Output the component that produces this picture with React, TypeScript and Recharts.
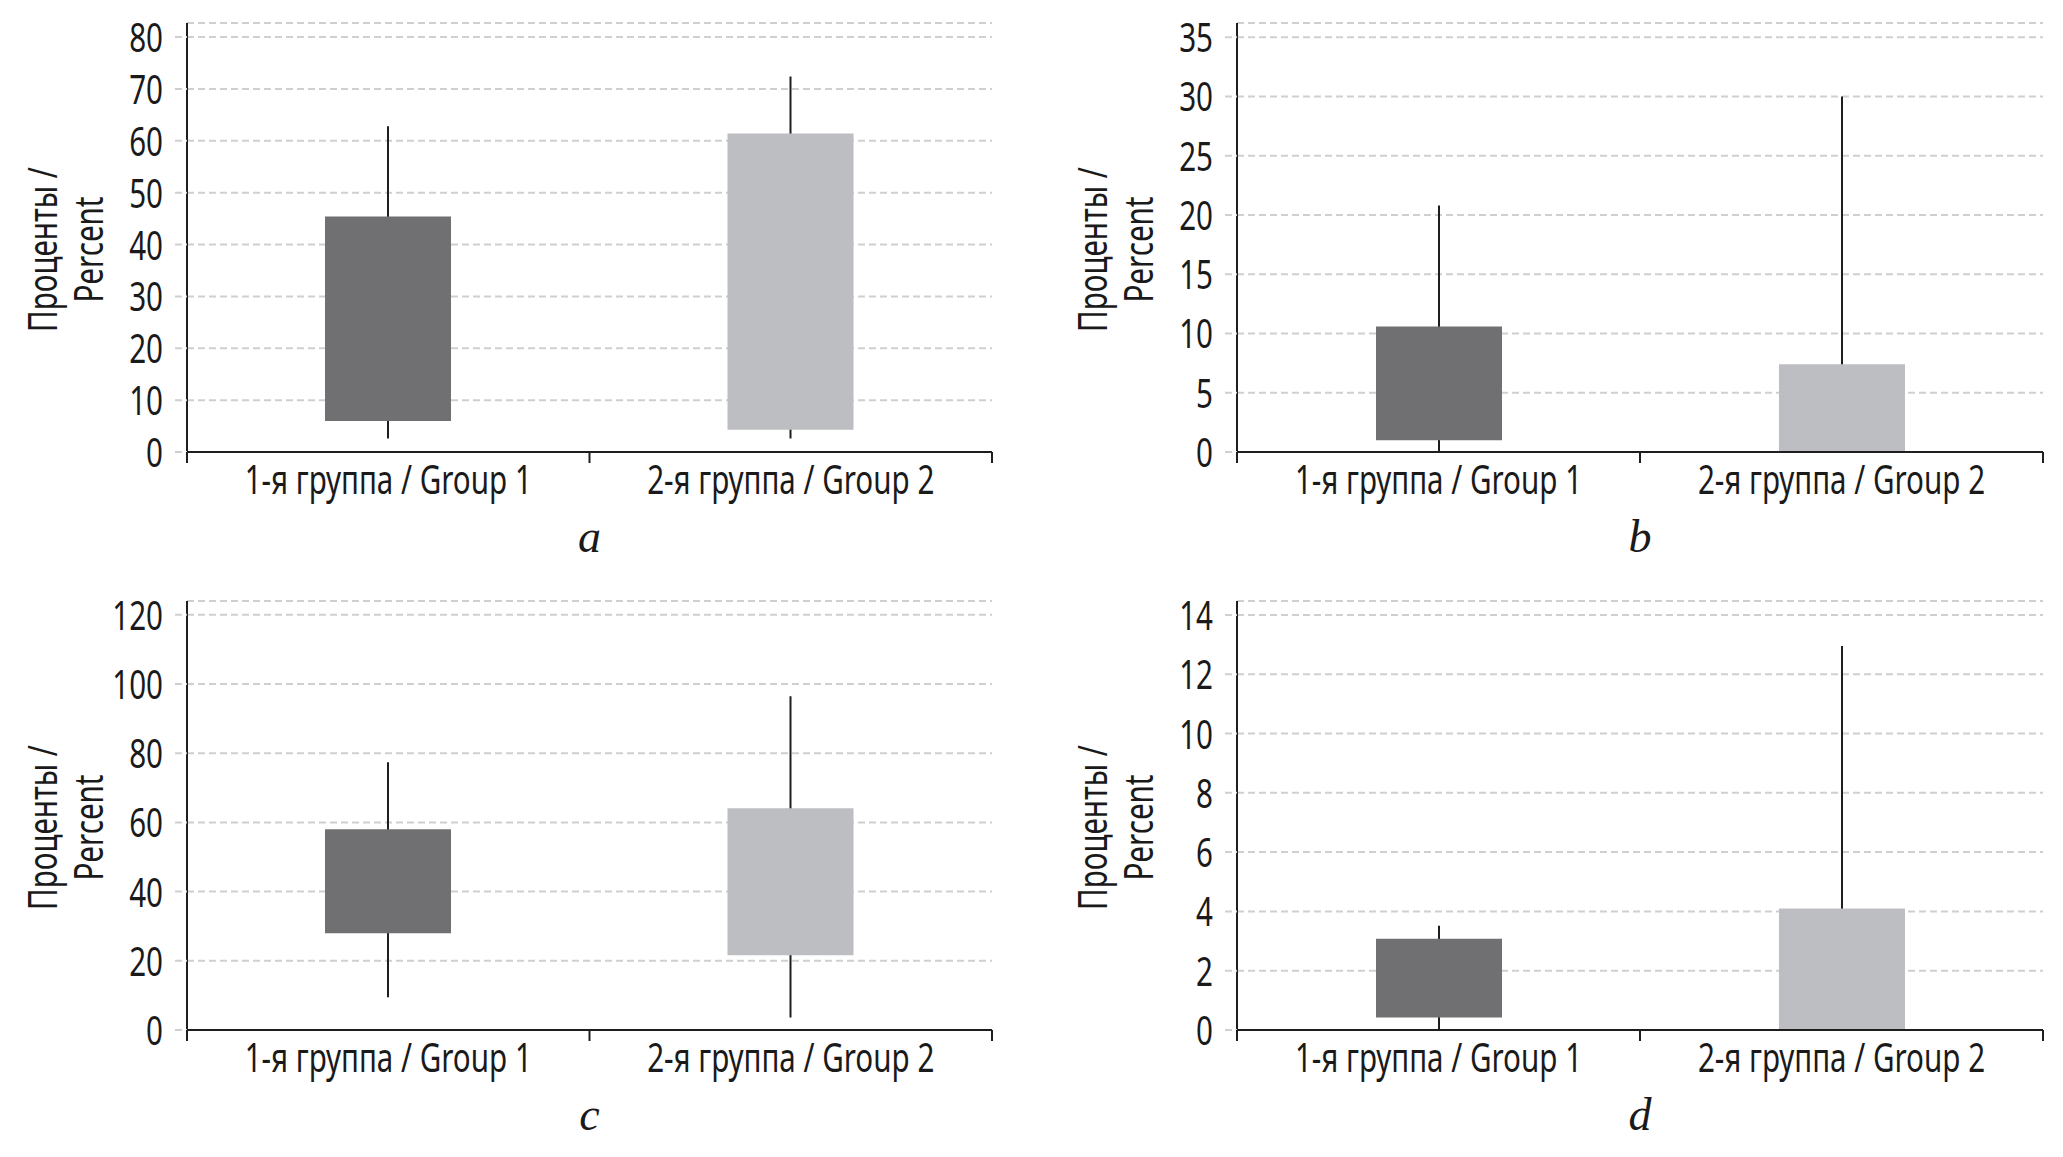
import React from 'react';
import { ComposedChart, Bar, XAxis, YAxis, CartesianGrid, Label, Cell } from 'recharts';

const groups = ['1-я группа / Group 1', '2-я группа / Group 2'];
const groupPositions = [0.5, 1.5];
const boundaryTicks = [0, 1, 2];
const boxColors = ['#707072', '#bdbec1'];

const aTicks = [0, 10, 20, 30, 40, 50, 60, 70, 80];
const aBoxLow = [6.0, 4.3];
const aBoxHigh = [45.4, 61.4];
const aWhiskerLow = [2.6, 2.6];
const aWhiskerHigh = [62.8, 72.4];
const aDomainMax = 82.7;

const bTicks = [0, 5, 10, 15, 20, 25, 30, 35];
const bBoxLow = [1.0, 0];
const bBoxHigh = [10.6, 7.4];
const bWhiskerLow = [0, 0];
const bWhiskerHigh = [20.8, 30];
const bDomainMax = 36.2;

const cTicks = [0, 20, 40, 60, 80, 100, 120];
const cBoxLow = [28, 21.6];
const cBoxHigh = [58, 64.1];
const cWhiskerLow = [9.5, 3.6];
const cWhiskerHigh = [77.4, 96.5];
const cDomainMax = 124;

const dTicks = [0, 2, 4, 6, 8, 10, 12, 14];
const dBoxLow = [0.42, 0];
const dBoxHigh = [3.08, 4.1];
const dWhiskerLow = [0, 0];
const dWhiskerHigh = [3.52, 12.95];
const dDomainMax = 14.47;

const FONT = "'Noto Sans', 'DejaVu Sans', sans-serif";
const SERIF = "'Liberation Serif', 'DejaVu Serif', serif";
const FS = 40;
const SX = 0.74;
const TEXT = '#1a1a1a';
const AXIS = '#1e1e1e';
const GRID = '#cfcfcf';

const xTicks = [...boundaryTicks, ...groupPositions].sort((p, q) => p - q);

function buildRows(boxLow: number[], boxHigh: number[], wLow: number[], wHigh: number[]) {
  return groups.map((g, i) => ({
    name: g,
    pos: groupPositions[i],
    box: [boxLow[i], boxHigh[i]],
    whisker: [wLow[i], wHigh[i]],
  }));
}

const NarrowText = ({ x, y, anchor, rotate, children }: any) => (
  <text
    x={0}
    y={0}
    transform={`translate(${x},${y})${rotate ? ' rotate(-90)' : ''} scale(${SX},1)`}
    textAnchor={anchor}
    fontFamily={FONT}
    fontSize={FS}
    fill={TEXT}
  >
    {children}
  </text>
);

const XTick = (props: any) => {
  const { x, y, payload } = props;
  const gi = groupPositions.indexOf(payload.value);
  if (gi >= 0) {
    return (
      <NarrowText x={x} y={y + 42} anchor="middle">
        {groups[gi]}
      </NarrowText>
    );
  }
  return <line x1={x} y1={y} x2={x} y2={y + 11} stroke={AXIS} strokeWidth={2} />;
};

const YTick = (props: any) => {
  const { x, y, payload } = props;
  return (
    <NarrowText x={x} y={y + 15} anchor="end">
      {payload.value}
    </NarrowText>
  );
};

const YLabelContent = (props: any) => {
  const vb = props.viewBox || {};
  const ax = (vb.x || 0) + (vb.width || 0);
  const cy = (vb.y || 0) + (vb.height || 0) / 2 + 12;
  return (
    <g>
      <NarrowText x={ax - 130} y={cy} anchor="middle" rotate>
        Проценты /
      </NarrowText>
      <NarrowText x={ax - 84} y={cy} anchor="middle" rotate>
        Percent
      </NarrowText>
    </g>
  );
};

const makeLetter = (letter: string) => (props: any) => {
  const vb = props.viewBox || {};
  const cx = (vb.x || 0) + (vb.width || 0) / 2;
  const by = (vb.y || 0) + 100;
  return (
    <text x={cx} y={by} textAnchor="middle" fontFamily={SERIF} fontStyle="italic" fontSize={46} fill={TEXT}>
      {letter}
    </text>
  );
};

type PanelProps = {
  rows: any[];
  yTicks: number[];
  yMax: number;
  letter: string;
  axisX: number;
  rightMargin: number;
};

const W = 1031;
const H = 578;
const Y_AXIS_W = 120;

const Panel = ({ rows, yTicks, yMax, letter, axisX, rightMargin }: PanelProps) => (
  <ComposedChart
    width={W}
    height={H}
    data={rows}
    margin={{ top: 23, right: rightMargin, bottom: 66, left: axisX - Y_AXIS_W }}
  >
    <CartesianGrid horizontal vertical={false} stroke={GRID} strokeWidth={2} strokeDasharray="7 4" />
    <XAxis
      xAxisId="x"
      dataKey="pos"
      type="number"
      domain={[0, 2]}
      ticks={xTicks}
      interval={0}
      tick={<XTick />}
      tickLine={false}
      tickSize={0}
      tickMargin={0}
      height={60}
      axisLine={{ stroke: AXIS, strokeWidth: 2 }}
    >
      <Label content={makeLetter(letter)} />
    </XAxis>
    <XAxis xAxisId="w" dataKey="pos" type="number" domain={[0, 2]} ticks={xTicks} height={0} hide />
    <YAxis
      type="number"
      domain={[0, yMax]}
      ticks={yTicks}
      interval={0}
      width={Y_AXIS_W}
      tick={<YTick />}
      tickSize={12}
      tickMargin={12}
      tickLine={{ stroke: GRID, strokeWidth: 2, strokeDasharray: '7 4' }}
      axisLine={{ stroke: AXIS, strokeWidth: 2 }}
      allowDataOverflow
    >
      <Label content={YLabelContent} />
    </YAxis>
    <Bar xAxisId="w" dataKey="whisker" barSize={2} fill={AXIS} isAnimationActive={false} />
    <Bar xAxisId="x" dataKey="box" barSize={126} isAnimationActive={false}>
      {rows.map((r, i) => (
        <Cell key={r.name} fill={boxColors[i]} />
      ))}
    </Bar>
  </ComposedChart>
);

const rowsA = buildRows(aBoxLow, aBoxHigh, aWhiskerLow, aWhiskerHigh);
const rowsB = buildRows(bBoxLow, bBoxHigh, bWhiskerLow, bWhiskerHigh);
const rowsC = buildRows(cBoxLow, cBoxHigh, cWhiskerLow, cWhiskerHigh);
const rowsD = buildRows(dBoxLow, dBoxHigh, dWhiskerLow, dWhiskerHigh);

export default function App() {
  return (
    <div style={{ position: 'absolute', left: 0, top: 0, width: 2063, height: 1157, background: '#fff' }}>
      <div style={{ position: 'absolute', left: 0, top: 0 }}>
        <Panel rows={rowsA} yTicks={aTicks} yMax={aDomainMax} letter="a" axisX={187} rightMargin={39} />
      </div>
      <div style={{ position: 'absolute', left: 1031, top: 0 }}>
        <Panel rows={rowsB} yTicks={bTicks} yMax={bDomainMax} letter="b" axisX={206} rightMargin={19} />
      </div>
      <div style={{ position: 'absolute', left: 0, top: 578 }}>
        <Panel rows={rowsC} yTicks={cTicks} yMax={cDomainMax} letter="c" axisX={187} rightMargin={39} />
      </div>
      <div style={{ position: 'absolute', left: 1031, top: 578 }}>
        <Panel rows={rowsD} yTicks={dTicks} yMax={dDomainMax} letter="d" axisX={206} rightMargin={19} />
      </div>
    </div>
  );
}
